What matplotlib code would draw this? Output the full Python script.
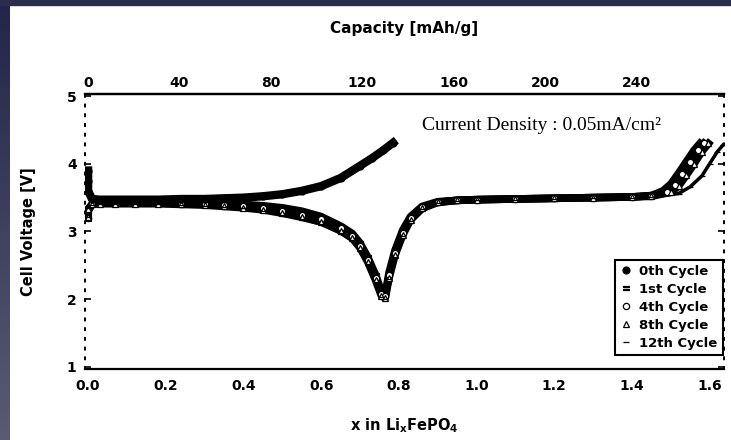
import numpy as np
import matplotlib
matplotlib.use("Agg")
import matplotlib.pyplot as plt
from matplotlib.colors import LinearSegmentedColormap
from matplotlib.patches import Rectangle

plt.rcParams["font.family"] = ["DejaVu Sans"]
plt.rcParams["font.weight"] = "bold"
plt.rcParams["axes.labelweight"] = "bold"
plt.rcParams["mathtext.fontset"] = "custom"
plt.rcParams["mathtext.rm"] = "DejaVu Sans:bold"
plt.rcParams["mathtext.it"] = "DejaVu Sans:bold"

# 0th cycle (charge only), x in LixFePO4 vs cell voltage
x0 = [0.0, 0.0, 0.0, 0.01, 0.03, 0.07, 0.12, 0.18, 0.24, 0.3, 0.35, 0.4, 0.45,
      0.5, 0.55, 0.6, 0.65, 0.7, 0.73, 0.76, 0.785]
v0 = [3.9, 3.75, 3.6, 3.48, 3.47, 3.47, 3.47, 3.47, 3.48, 3.48, 3.49, 3.5, 3.52,
      3.55, 3.6, 3.67, 3.79, 3.97, 4.08, 4.2, 4.31]

# later cycles: discharge dip then charge plateau (shared x up to 1.45)
dis_x = [0.0, 0.0, 0.01, 0.03, 0.07, 0.12, 0.18, 0.24, 0.3, 0.35, 0.4, 0.45, 0.5,
         0.55, 0.6, 0.65, 0.68, 0.7, 0.72, 0.74, 0.755, 0.765, 0.775, 0.79, 0.81,
         0.83, 0.86, 0.9, 0.95, 1.0, 1.1, 1.2, 1.3, 1.4, 1.45]
v1 = [3.2, 3.3, 3.4, 3.43, 3.43, 3.43, 3.43, 3.43, 3.42, 3.41, 3.4, 3.38, 3.35,
      3.3, 3.22, 3.08, 2.97, 2.83, 2.62, 2.36, 2.12, 2.08, 2.4, 2.72, 3.02,
      3.22, 3.37, 3.44, 3.46, 3.47, 3.48, 3.49, 3.5, 3.51, 3.53]
v4 = [3.2, 3.32, 3.4, 3.42, 3.42, 3.42, 3.42, 3.41, 3.4, 3.39, 3.37, 3.34, 3.3,
      3.25, 3.18, 3.05, 2.93, 2.79, 2.58, 2.32, 2.08, 2.05, 2.36, 2.68, 2.98,
      3.2, 3.36, 3.43, 3.46, 3.47, 3.48, 3.49, 3.5, 3.51, 3.53]
v8 = [3.22, 3.33, 3.4, 3.41, 3.41, 3.41, 3.41, 3.4, 3.39, 3.37, 3.35, 3.32, 3.27,
      3.21, 3.14, 3.01, 2.9, 2.76, 2.55, 2.28, 2.05, 2.02, 2.32, 2.65, 2.95,
      3.17, 3.34, 3.43, 3.46, 3.47, 3.48, 3.49, 3.5, 3.51, 3.52]
v12 = [3.22, 3.34, 3.39, 3.4, 3.4, 3.4, 3.4, 3.39, 3.38, 3.36, 3.34, 3.3, 3.25,
       3.19, 3.11, 2.98, 2.87, 2.72, 2.52, 2.25, 2.03, 2.0, 2.3, 2.62, 2.93,
       3.15, 3.33, 3.42, 3.45, 3.46, 3.47, 3.48, 3.49, 3.5, 3.51]

# end-of-charge tails
t1_x = [1.48, 1.5, 1.52, 1.54, 1.56, 1.575]
t1_v = [3.6, 3.7, 3.86, 4.03, 4.2, 4.3]
t4_x = [1.49, 1.51, 1.53, 1.55, 1.57, 1.585]
t4_v = [3.59, 3.69, 3.85, 4.02, 4.2, 4.3]
t8_x = [1.5, 1.52, 1.54, 1.56, 1.58, 1.597]
t8_v = [3.58, 3.67, 3.83, 4.0, 4.18, 4.3]
t12_x = [1.52, 1.55, 1.58, 1.6, 1.62, 1.635]
t12_v = [3.56, 3.66, 3.82, 4.0, 4.18, 4.28]

labels = ["0th Cycle", "1st Cycle", "4th Cycle", "8th Cycle", "12th Cycle"]
x_ticks = [0.0, 0.2, 0.4, 0.6, 0.8, 1.0, 1.2, 1.4, 1.6]
cap_ticks = [0, 40, 80, 120, 160, 200, 240]
v_ticks = [1, 2, 3, 4, 5]
mah_per_x = 170

fig = plt.figure(figsize=(7.31, 4.40), dpi=100)

# dark slide border (left gradient + top strip)
band = fig.add_axes([0, 0, 10 / 731, 1])
cmap = LinearSegmentedColormap.from_list("band", ["#23254a", "#5a5b72"])
band.imshow(np.linspace(0, 1, 64).reshape(-1, 1), cmap=cmap, aspect="auto")
band.axis("off")
fig.patches.append(Rectangle((0, 1 - 5 / 440), 1, 5 / 440, transform=fig.transFigure,
                             color="#2a2c4e", zorder=0))

ax = fig.add_axes([85 / 731, 1 - 369 / 440, 639 / 731, 275 / 440])

cycles = [
    (x0, v0, 6, dict(marker="o", mfc="black", ms=5)),
    (dis_x + t1_x, v1 + t1_v, 5.5, dict(marker="$=$", mfc="black", ms=5)),
    (dis_x + t4_x, v4 + t4_v, 5.5, dict(marker="o", mfc="white", ms=4.5)),
    (dis_x + t8_x, v8 + t8_v, 5.5, dict(marker="^", mfc="white", ms=4)),
    (dis_x + t12_x, v12 + t12_v, 2.5, dict(marker="_", mfc="black", ms=5)),
]
handles = []
for i, ((xs, vs, lw, st), lab) in enumerate(zip(cycles, labels)):
    z = 4 if i == 0 else 3
    ax.plot(xs, vs, color="black", lw=lw, zorder=z)
    h, = ax.plot(xs, vs, ls="none", mec="black", mew=0.9, zorder=z + 0.5,
                 label=lab, **st)
    handles.append(h)

ax.set_xlim(-0.008, 1.637)
ax.set_ylim(0.97, 5.03)
ax.set_xticks(x_ticks)
ax.set_xticklabels([f"{t:.1f}" for t in x_ticks])
ax.set_yticks(v_ticks)
ax.tick_params(axis="x", length=0, pad=7, labelsize=10)
ax.tick_params(axis="y", direction="in", length=4, width=1.2, pad=6, labelsize=10,
               right=True)
for side in ["top", "bottom"]:
    ax.spines[side].set_linewidth(1.6)
for side in ["left", "right"]:
    ax.spines[side].set_linestyle((0, (1, 4)))
    ax.spines[side].set_linewidth(1.4)

ax.set_xlabel(r"x in Li$_\mathrm{x}$FePO$_\mathrm{4}$", fontsize=10.5, labelpad=17)
ax.set_ylabel("Cell Voltage [V]", fontsize=10.5, labelpad=22, fontweight="bold")

top = ax.secondary_xaxis("top", functions=(lambda x: x * mah_per_x,
                                           lambda c: c / mah_per_x))
top.set_xticks(cap_ticks)
top.tick_params(length=0, pad=3, labelsize=10)
top.spines["top"].set_linewidth(1.6)
top.set_xlabel("Capacity [mAh/g]", fontsize=11, labelpad=31, fontweight="bold")

ax.text(0.859, 4.57, "Current Density : 0.05mA/cm²", family="Liberation Serif",
        fontweight="normal", fontsize=14, va="center", ha="left")

leg = ax.legend(handles=handles, loc="lower right", bbox_to_anchor=(0.998, 0.05),
                borderaxespad=0, fancybox=False, edgecolor="black", framealpha=1,
                prop={"weight": "bold", "size": 9.5}, handlelength=0.8,
                handletextpad=0.6, labelspacing=0.38, borderpad=0.4)
leg.get_frame().set_linewidth(1.5)

fig.savefig("out.png", dpi=100)
